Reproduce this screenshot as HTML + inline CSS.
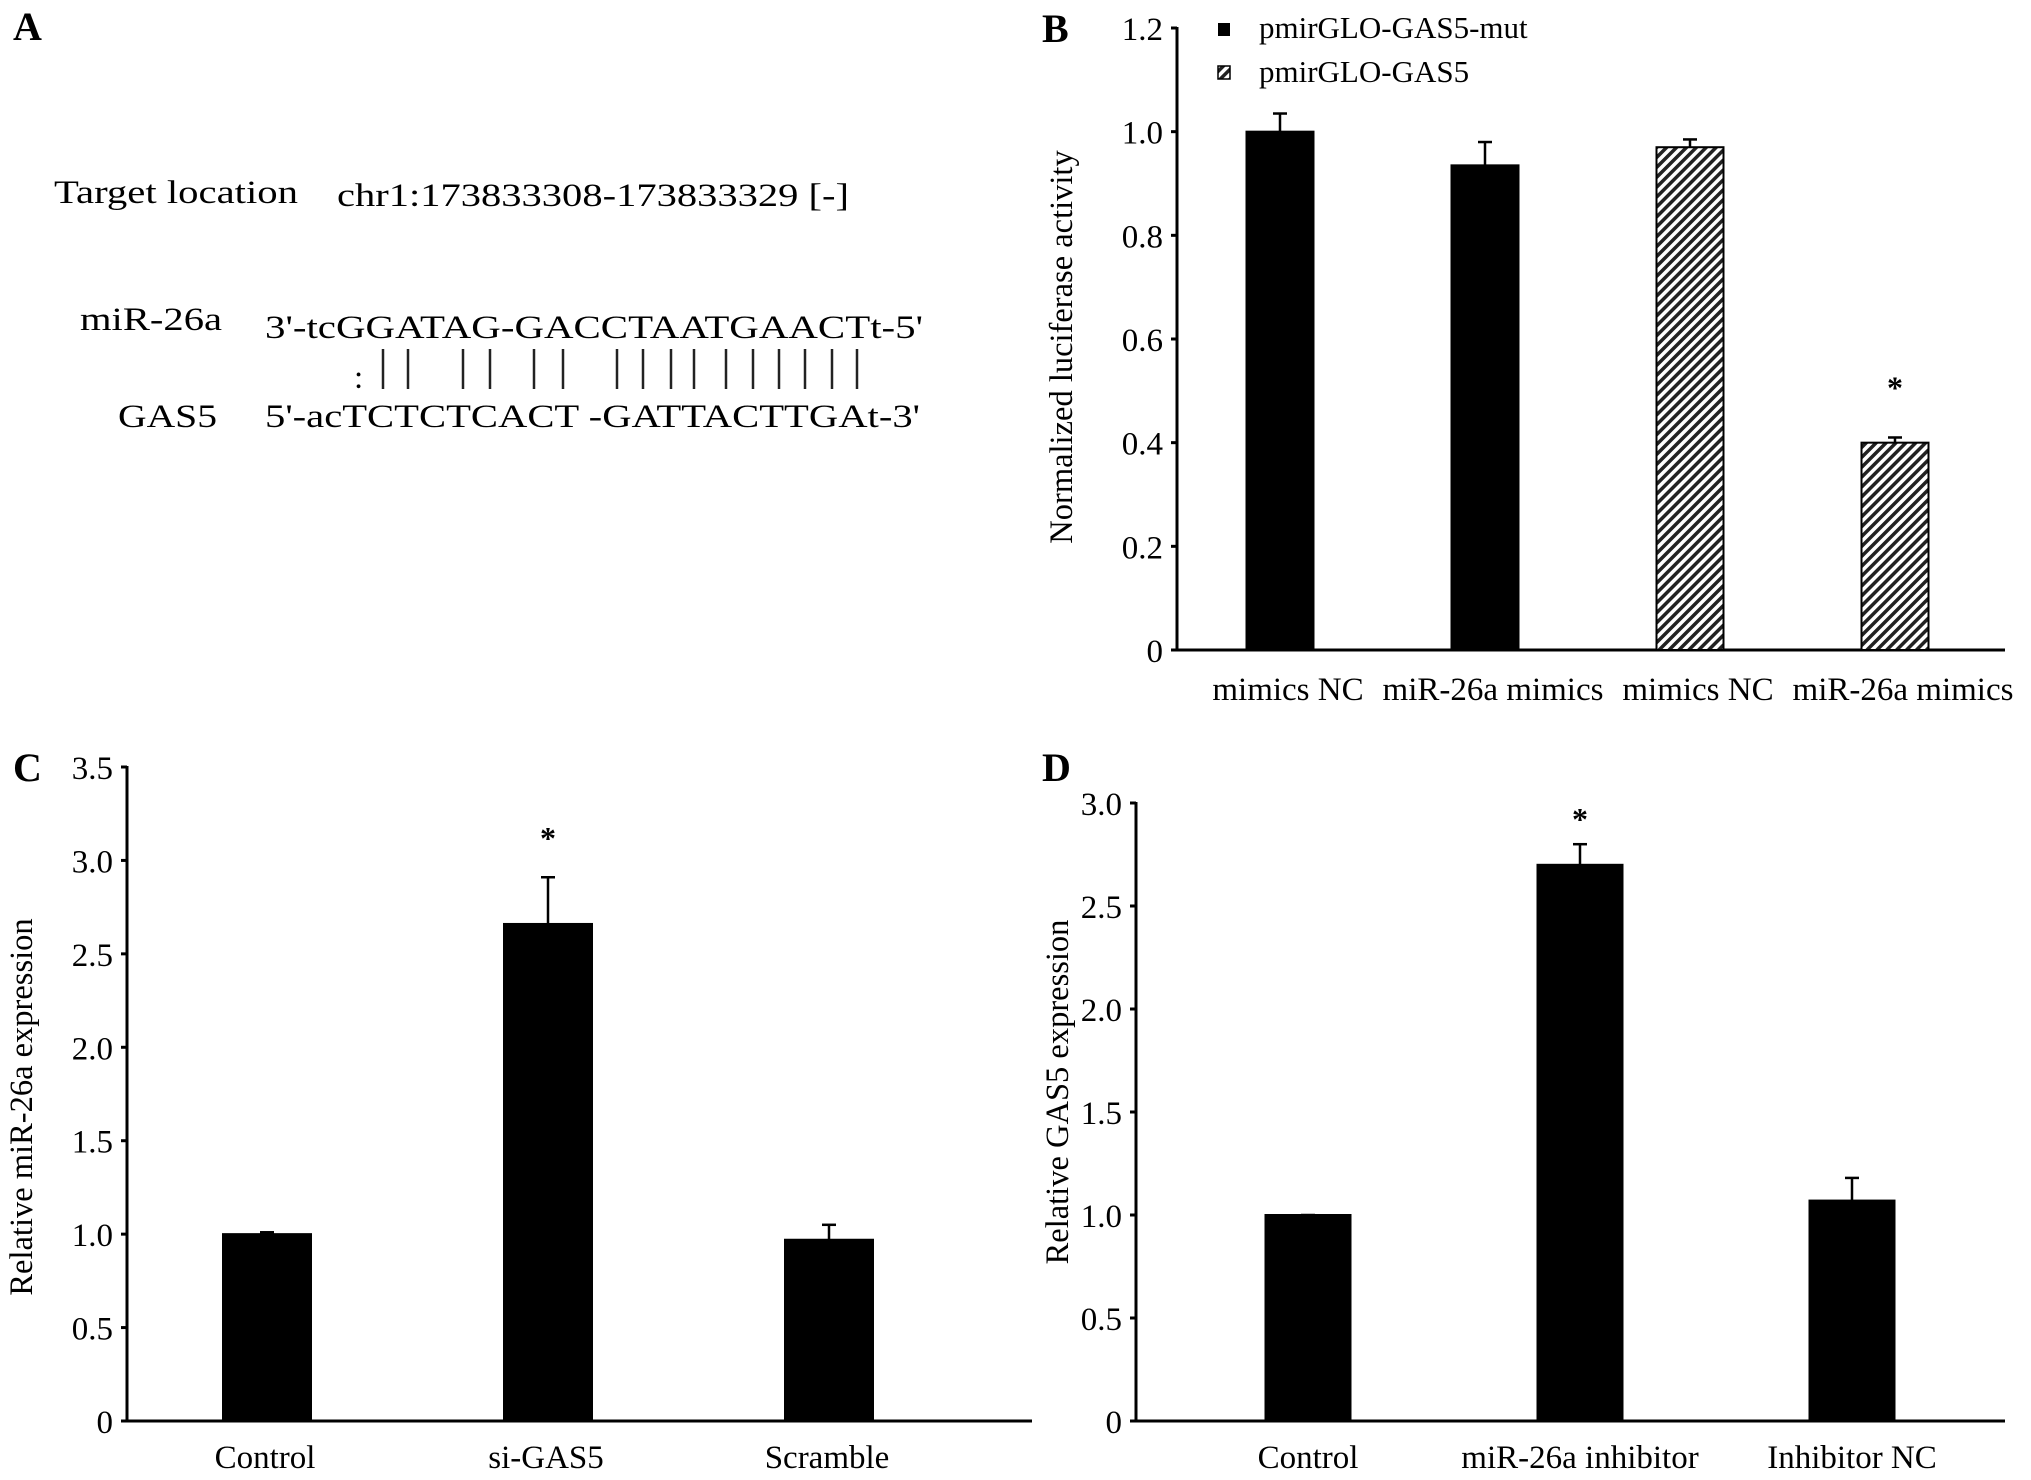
<!DOCTYPE html>
<html><head><meta charset="utf-8"><style>
html,body{margin:0;padding:0;background:#fff;}
svg{display:block;font-family:"Liberation Serif",serif;}
</style></head><body>
<svg id="fig" width="2031" height="1480" viewBox="0 0 2031 1480" xmlns="http://www.w3.org/2000/svg">
<defs>
<pattern id="hatch" patternUnits="userSpaceOnUse" width="7" height="7" patternTransform="rotate(45)">
<rect width="7" height="7" fill="#fff"/><rect width="3.5" height="7" fill="#222"/>
</pattern>
</defs>
<g font-size="33">
<text x="13" y="40" font-weight="bold" font-size="40">A</text>
<text x="54" y="203" textLength="244" lengthAdjust="spacingAndGlyphs">Target location</text>
<text x="337" y="206" textLength="512" lengthAdjust="spacingAndGlyphs">chr1:173833308-173833329 [-]</text>
<text x="80" y="330" textLength="142" lengthAdjust="spacingAndGlyphs">miR-26a</text>
<text x="265" y="338" textLength="658" lengthAdjust="spacingAndGlyphs">3'-tcGGATAG-GACCTAATGAACTt-5'</text>
<text x="118" y="427" textLength="99" lengthAdjust="spacingAndGlyphs">GAS5</text>
<text x="265" y="427" textLength="655" lengthAdjust="spacingAndGlyphs">5'-acTCTCTCACT -GATTACTTGAt-3'</text>
<text x="354" y="388">:</text>
<g id="pairs" stroke="#222" stroke-width="2.5"></g>
</g>
<g id="chartB"></g>
<g id="chartC"></g>
<g id="chartD"></g>
</svg>
<script>
// Panel B data
const bCategories = ["mimics NC","miR-26a mimics","mimics NC","miR-26a mimics"];
const bValues = [1.0, 0.935, 0.97, 0.40];
const bErrors = [0.035, 0.045, 0.015, 0.01];
const bSeries = ["mut","mut","wt","wt"];
const bTicks = ["0","0.2","0.4","0.6","0.8","1.0","1.2"];
const bTickValues = [0,0.2,0.4,0.6,0.8,1.0,1.2];
const bStars = [false,false,false,true];
// Panel C data
const cCategories = ["Control","si-GAS5","Scramble"];
const cValues = [1.0, 2.66, 0.97];
const cErrors = [0.01, 0.25, 0.08];
const cTicks = ["0","0.5","1.0","1.5","2.0","2.5","3.0","3.5"];
const cTickValues = [0,0.5,1.0,1.5,2.0,2.5,3.0,3.5];
const cStars = [false,true,false];
// Panel D data
const dCategories = ["Control","miR-26a inhibitor","Inhibitor NC"];
const dValues = [1.0, 2.70, 1.07];
const dErrors = [0.0, 0.10, 0.11];
const dTicks = ["0","0.5","1.0","1.5","2.0","2.5","3.0"];
const dTickValues = [0,0.5,1.0,1.5,2.0,2.5,3.0];
const dStars = [false,true,false];

const NS="http://www.w3.org/2000/svg";
function mk(tag, attrs, parent, txt){
  const e=document.createElementNS(NS,tag);
  for(const k in attrs) e.setAttribute(k,attrs[k]);
  if(txt!==undefined) e.textContent=txt;
  parent.appendChild(e); return e;
}
const pairX=[383,408,463,490,534,563,617,643,671,694,726,753,779,805,832,857];
const pg=document.getElementById('pairs');
pairX.forEach(x=>{
  const l=mk('line',{x1:x,x2:x,y1:349,y2:389},pg);
  
  
});

function drawChart(g, cfg){
  const y=v=>cfg.y0-(v/cfg.max)*(cfg.y0-cfg.yTop);
  const xc=i=>cfg.first+cfg.spacing*i;
  const ya=mk('line',{x1:cfg.x0,x2:cfg.x0,y1:y(cfg.max)-1,y2:cfg.y0,stroke:'#000','stroke-width':3},g);
   
  const xa=mk('line',{x1:cfg.x0,x2:cfg.xEnd,y1:cfg.y0,y2:cfg.y0,stroke:'#000','stroke-width':3},g);
   
  cfg.tickVals.forEach((v,i)=>{
    const t=mk('line',{x1:cfg.x0-6,x2:cfg.x0,y1:y(v),y2:y(v),stroke:'#000','stroke-width':3},g);
     
    const tl=mk('text',{x:cfg.x0-14,y:y(v)+12,'text-anchor':'end','font-size':33},g,cfg.ticks[i]);
     
  });
  const tt=mk('text',{x:0,y:0,'text-anchor':'middle','font-size':32.5,transform:`translate(${cfg.titleX},${cfg.titleY}) rotate(-90)`},g,cfg.title);
   
  const pl=mk('text',{x:cfg.labelX,y:cfg.labelY,'font-size':40,'font-weight':'bold'},g,cfg.label);
   
  cfg.cats.forEach((c,i)=>{
    const cx=xc(i);
    const bw=cfg.bw;
    const fill=(cfg.series&&cfg.series[i]==='wt')?'url(#hatch)':'#000';
    const b=mk('rect',{x:cx-bw/2,y:y(cfg.vals[i]),width:bw,height:cfg.y0-y(cfg.vals[i]),fill:fill,stroke:'#000','stroke-width':2},g);
     
    const top=y(cfg.vals[i]+cfg.errs[i]);
    const e1=mk('line',{x1:cx,x2:cx,y1:y(cfg.vals[i]),y2:top,stroke:'#000','stroke-width':2.5},g);
     
    const e2=mk('line',{x1:cx-7,x2:cx+7,y1:top,y2:top,stroke:'#000','stroke-width':2.5},g);
     
    if(cfg.stars[i]){
      const s=mk('text',{x:cx,y:top-cfg.starGap,'text-anchor':'middle','font-size':32,'font-weight':'bold'},g,'*');
       
    }
    const xl=mk('text',{x:cx+cfg.labOff,y:cfg.y0+cfg.xlabDy,'text-anchor':'middle','font-size':33},g,c);
     
  });
}
drawChart(document.getElementById('chartB'),{x0:1177,xEnd:2005,y0:650,yTop:28,max:1.2,cats:bCategories,vals:bValues,errs:bErrors,series:bSeries,
  ticks:bTicks,tickVals:bTickValues,stars:bStars,bw:67,first:1280,spacing:205,labOff:8,starGap:39,xlabDy:50,title:"Normalized luciferase activity",titleX:1072,titleY:347,label:"B",labelX:1042,labelY:42});
drawChart(document.getElementById('chartC'),{x0:127,xEnd:1032,y0:1421,yTop:767,max:3.5,cats:cCategories,vals:cValues,errs:cErrors,
  ticks:cTicks,tickVals:cTickValues,stars:cStars,bw:88,first:267,spacing:281,labOff:-2,starGap:28,xlabDy:47,title:"Relative miR-26a expression",titleX:32,titleY:1107,label:"C",labelX:13,labelY:781});
drawChart(document.getElementById('chartD'),{x0:1136,xEnd:2005,y0:1421,yTop:803,max:3.0,cats:dCategories,vals:dValues,errs:dErrors,
  ticks:dTicks,tickVals:dTickValues,stars:dStars,bw:85,first:1308,spacing:272,labOff:0,starGap:14,xlabDy:47,title:"Relative GAS5 expression",titleX:1068,titleY:1092,label:"D",labelX:1042,labelY:781});
const gb=document.getElementById('chartB');
const lg=mk('g',{},gb);  
const s1=mk('rect',{x:1218,y:23,width:12,height:13,fill:'#000'},lg);
 
const t1=mk('text',{x:1259,y:38,'font-size':31},lg,'pmirGLO-GAS5-mut');
 
const s2=mk('rect',{x:1218,y:66,width:12,height:13,fill:'url(#hatch)',stroke:'#000','stroke-width':1.5},lg);
 
const t2=mk('text',{x:1259,y:82,'font-size':31},lg,'pmirGLO-GAS5');
 
</script>
</body></html>
